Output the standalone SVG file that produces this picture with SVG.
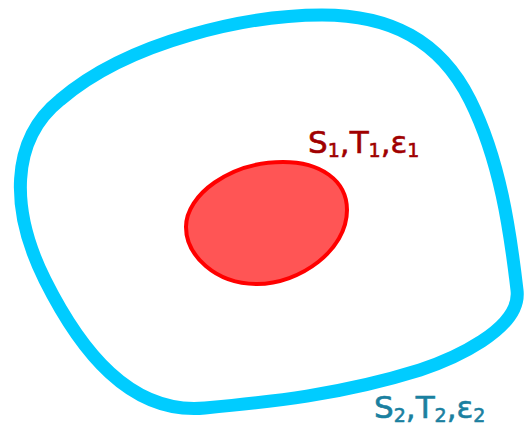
<svg xmlns="http://www.w3.org/2000/svg" width="524" height="426" viewBox="0 0 524 426">
<style>
.lbl{font-family:"DejaVu Sans",Verdana,sans-serif;font-size:31px;stroke-width:0.6}
.sub{font-size:19px}
</style>
<rect width="524" height="426" fill="#ffffff"/>
<g id="outer">
<path d="M 322,15 C 390,15 440,40 470,100 C 500,160 510,230 517,290 C 522,330 450,360 420,370 C 340,395 270,402 205,408 C 130,415 80,350 45,280 C 10,210 10,140 60,100 C 130,40 250,15 322,15 Z" fill="none" stroke="#00ccff" stroke-width="13" stroke-linejoin="round"/>
</g>
<g id="inner">
<path d="M 186,227 C 186,195 230,162 283,162 C 320,162 347,180 347,210 C 347,250 300,284 257,284 C 215,284 186,255 186,227 Z" fill="#ff5555" stroke="#ff0000" stroke-width="4"/>
</g>
<g id="labels">
<text class="lbl" x="308" y="153" fill="#a00000" stroke="#a00000">S<tspan class="sub" dy="4">1</tspan><tspan dy="-4">,T</tspan><tspan class="sub" dy="4">1</tspan><tspan dy="-4">,ε</tspan><tspan class="sub" dy="4">1</tspan></text>
<text class="lbl" x="374" y="418" fill="#1a80a0" stroke="#1a80a0">S<tspan class="sub" dy="4">2</tspan><tspan dy="-4">,T</tspan><tspan class="sub" dy="4">2</tspan><tspan dy="-4">,ε</tspan><tspan class="sub" dy="4">2</tspan></text>
</g>
</svg>
